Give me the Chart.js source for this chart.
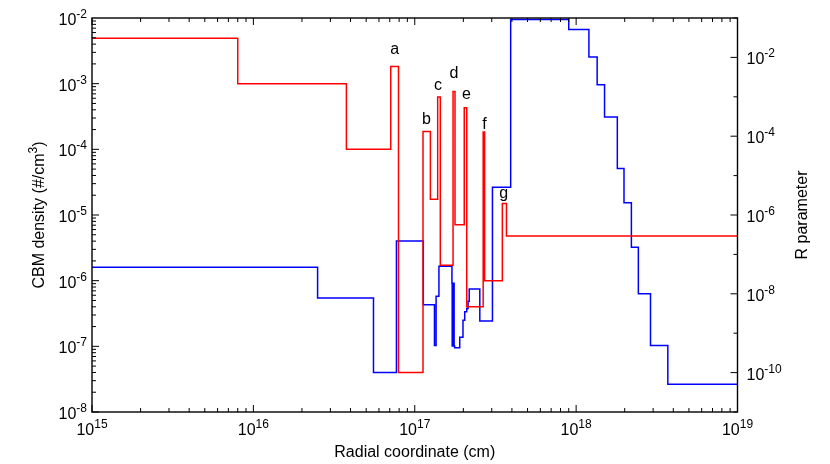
<!DOCTYPE html>
<html>
<head>
<meta charset="utf-8">
<script src="https://cdn.jsdelivr.net/npm/chart.js@4/dist/chart.umd.min.js"></script>
<style>
  body { margin: 0; background: #fff; }
  canvas { display: block; }
</style>
</head>
<body>
<canvas id="cbm-chart" width="830" height="464"></canvas>
<script>
// CBM density (left axis), value holds from redR[i] to redR[i+1]
const redR = [1e15, 8.0e15, 3.77e16, 7.1e16, 7.93e16, 1.125e17, 1.25e17, 1.387e17, 1.44e17,
  1.727e17, 1.776e17, 2.026e17, 2.10e17, 2.655e17, 2.71e17, 3.49e17, 3.70e17, 1e19];
const redN = [4.9e-3, 1.0e-3, 1.0e-4, 1.83e-3, 4.0e-8, 1.87e-4, 1.74e-5, 6.25e-4, 1.71e-6,
  7.6e-4, 7.1e-6, 4.3e-4, 4.0e-7, 1.83e-4, 1.0e-6, 1.5e-5, 4.8e-6, 4.8e-6];

// R parameter (right axis)
const blueR = [1e15, 2.5e16, 5.55e16, 7.7e16, 1.13e17, 1.325e17, 1.356e17, 1.412e17,
  1.700e17, 1.706e17, 1.712e17, 1.718e17, 1.724e17, 1.730e17, 1.736e17, 1.742e17, 1.748e17, 1.754e17,
  1.766e17, 1.90e17, 1.99e17, 2.04e17, 2.10e17, 2.14e17, 2.175e17, 2.53e17, 3.03e17, 3.93e17,
  9.0e17, 1.2e18, 1.35e18, 1.5e18, 1.8e18, 1.98e18, 2.2e18, 2.43e18, 2.89e18, 3.7e18, 1e19];
const blueP = [4.69e-8, 7.78e-9, 1.0e-10, 2.19e-7, 5.25e-9, 4.9e-10, 8.7e-9, 5.0e-8,
  1.84e-8, 4.7e-10, 1.84e-8, 4.7e-10, 1.84e-8, 4.7e-10, 1.84e-8, 4.7e-10, 1.84e-8, 4.7e-10,
  4.27e-10, 7.9e-10, 2.14e-9, 3.49e-9, 4.26e-9, 6.5e-9, 1.32e-8, 2.04e-9, 5.07e-6, 9.1e-2,
  5.07e-2, 1.03e-2, 2.03e-3, 3.06e-4, 1.51e-5, 2.06e-6, 1.51e-7, 1.0e-8, 4.9e-10, 5.06e-11, 5.06e-11];

// shell labels, anchored in data units (left axis)
const peakNames = ['a', 'b', 'c', 'd', 'e', 'f', 'g'];
const peakR = [7.52e16, 1.18e17, 1.395e17, 1.75e17, 2.09e17, 2.70e17, 3.56e17];
const peakN = [2.86e-3, 2.45e-4, 8.1e-4, 1.23e-3, 5.83e-4, 2.06e-4, 1.82e-5];

// axis ranges / tick labels
const xDecades = [15, 16, 17, 18, 19];
const yDecades = [-8, -7, -6, -5, -4, -3, -2];
const rDecades = [-11, -10, -9, -8, -7, -6, -5, -4, -3, -2, -1];
const rLabelled = [-10, -8, -6, -4, -2];

const FONT = '"Liberation Sans", Arial, Helvetica, sans-serif';

function pow10(ctx, exp, x, y, align) {
  ctx.font = '16px ' + FONT;
  const wb = ctx.measureText('10').width;
  ctx.font = '12px ' + FONT;
  const we = ctx.measureText(String(exp)).width;
  const w = wb + we;
  let x0 = x;
  if (align === 'center') x0 = x - w / 2;
  if (align === 'right') x0 = x - w;
  ctx.textAlign = 'left';
  ctx.textBaseline = 'alphabetic';
  ctx.font = '16px ' + FONT;
  ctx.fillText('10', x0, y);
  ctx.font = '12px ' + FONT;
  ctx.fillText(String(exp), x0 + wb, y - 7);
}

const axesPlugin = {
  id: 'axesPlugin',
  afterDraw(chart) {
    const { ctx, chartArea: a, scales } = chart;
    const sx = scales.x, sy = scales.y, sr = scales.y2;
    ctx.save();
    ctx.strokeStyle = '#000';
    ctx.fillStyle = '#000';
    ctx.lineWidth = 1.4;
    ctx.strokeRect(a.left, a.top, a.right - a.left, a.bottom - a.top);

    ctx.lineWidth = 1;
    ctx.beginPath();
    // x ticks, bottom and top, inward
    for (let d = xDecades[0]; d < xDecades[xDecades.length - 1]; d++) {
      for (let m = 1; m < 10; m++) {
        const px = sx.getPixelForValue(m * Math.pow(10, d));
        const len = m === 1 ? 7 : 4;
        ctx.moveTo(px, a.bottom); ctx.lineTo(px, a.bottom - len);
        ctx.moveTo(px, a.top); ctx.lineTo(px, a.top + len);
      }
    }
    // left y ticks, inward
    for (let d = yDecades[0]; d < yDecades[yDecades.length - 1]; d++) {
      for (let m = 1; m < 10; m++) {
        const py = sy.getPixelForValue(m * Math.pow(10, d));
        const len = m === 1 ? 7 : 4;
        ctx.moveTo(a.left, py); ctx.lineTo(a.left + len, py);
      }
    }
    // right y ticks (R parameter), one per decade
    rDecades.forEach(d => {
      const py = sr.getPixelForValue(Math.pow(10, d));
      const len = rLabelled.includes(d) ? 7 : 4;
      ctx.moveTo(a.right, py); ctx.lineTo(a.right - len, py);
    });
    ctx.stroke();

    // tick labels
    xDecades.forEach(d => pow10(ctx, d, sx.getPixelForValue(Math.pow(10, d)), a.bottom + 23, 'center'));
    yDecades.forEach(d => pow10(ctx, d, a.left - 5, sy.getPixelForValue(Math.pow(10, d)) + 7, 'right'));
    rLabelled.forEach(d => pow10(ctx, d, a.right + 9, sr.getPixelForValue(Math.pow(10, d)) + 7, 'left'));

    // axis titles
    const midY = (a.top + a.bottom) / 2;
    ctx.font = '16px ' + FONT;
    ctx.textAlign = 'center';
    ctx.textBaseline = 'alphabetic';
    ctx.fillText('Radial coordinate (cm)', (a.left + a.right) / 2, 457);

    ctx.save();
    ctx.translate(44, midY);
    ctx.rotate(-Math.PI / 2);
    const t1 = 'CBM density (#/cm', t2 = '3', t3 = ')';
    ctx.font = '16px ' + FONT;
    const w1 = ctx.measureText(t1).width, w3 = ctx.measureText(t3).width;
    ctx.font = '12px ' + FONT;
    const w2 = ctx.measureText(t2).width;
    let x0 = -(w1 + w2 + w3) / 2;
    ctx.textAlign = 'left';
    ctx.font = '16px ' + FONT;
    ctx.fillText(t1, x0, 0);
    ctx.font = '12px ' + FONT;
    ctx.fillText(t2, x0 + w1, -7);
    ctx.font = '16px ' + FONT;
    ctx.fillText(t3, x0 + w1 + w2, 0);
    ctx.restore();

    ctx.save();
    ctx.translate(807, midY);
    ctx.rotate(-Math.PI / 2);
    ctx.font = '16px ' + FONT;
    ctx.textAlign = 'center';
    ctx.fillText('R parameter', 0, 0);
    ctx.restore();

    // shell letters
    ctx.font = '16px ' + FONT;
    ctx.textAlign = 'center';
    peakNames.forEach((s, i) => {
      ctx.fillText(s, sx.getPixelForValue(peakR[i]), sy.getPixelForValue(peakN[i]));
    });
    ctx.restore();
  }
};

const ctx = document.getElementById('cbm-chart');
const cbmChart = new Chart(ctx, {
  type: 'line',
  data: {
    datasets: [{
      label: 'CBM density',
      data: redR.map((r, i) => ({ x: r, y: redN[i] })),
      borderColor: '#ff0000',
      borderWidth: 1.5,
      pointRadius: 0,
      stepped: true,
      yAxisID: 'y'
    }, {
      label: 'R parameter',
      data: blueR.map((r, i) => ({ x: r, y: blueP[i] })),
      borderColor: '#0000ff',
      borderWidth: 1.5,
      pointRadius: 0,
      stepped: true,
      yAxisID: 'y2'
    }]
  },
  options: {
    responsive: false,
    animation: false,
    layout: { padding: { left: 92, right: 92.5, top: 18, bottom: 52 } },
    plugins: { legend: { display: false }, tooltip: { enabled: false } },
    scales: {
      x: { type: 'logarithmic', min: 1e15, max: 1e19, display: false },
      y: { type: 'logarithmic', position: 'left', min: 1e-8, max: 1e-2, display: false },
      y2: { type: 'logarithmic', position: 'right', min: 1e-11, max: 1e-1, display: false }
    }
  },
  plugins: [axesPlugin]
});
</script>
</body>
</html>
